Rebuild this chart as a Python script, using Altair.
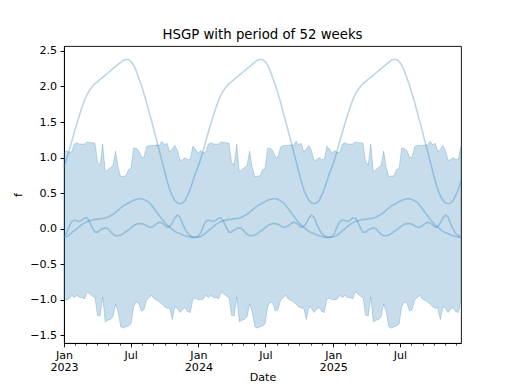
import altair as alt
import pandas as pd

# weekly dates, 2023-01-01 .. 2025-12-14 (155 weeks)
dates = pd.date_range("2023-01-01", periods=155, freq="7D").strftime("%Y-%m-%d").tolist()

# upper edge of the shaded band (read per week; 2023 / 2024 / 2025 rows)
upper = [
    1.06, 1.10, 1.07, 1.08, 1.19, 1.21, 1.19, 1.19, 1.19, 1.22, 1.21, 1.21, 1.20, 0.94, 0.89, 1.19, 0.80, 0.83, 0.86, 0.89, 1.09, 0.86, 0.73, 0.74, 0.74, 0.83, 0.85, 1.13, 1.13, 1.10, 1.01, 1.00, 1.15, 1.17, 1.17, 1.17, 1.18, 1.17, 1.23, 1.18, 1.20, 1.08, 1.12, 1.17, 1.10, 0.96, 0.97, 1.00, 0.97, 0.98, 1.16, 1.12,
    1.06, 1.10, 1.07, 1.08, 1.19, 1.21, 1.19, 1.19, 1.19, 1.22, 1.21, 1.21, 1.20, 0.94, 0.89, 1.19, 0.80, 0.83, 0.86, 0.89, 1.09, 0.86, 0.73, 0.74, 0.74, 0.83, 0.85, 1.13, 1.13, 1.10, 1.01, 1.00, 1.15, 1.17, 1.17, 1.17, 1.18, 1.17, 1.23, 1.18, 1.20, 1.08, 1.12, 1.17, 1.10, 0.96, 0.97, 1.00, 0.97, 0.98, 1.16, 1.12,
    1.06, 1.10, 1.07, 1.08, 1.19, 1.21, 1.19, 1.19, 1.19, 1.22, 1.21, 1.21, 1.20, 0.94, 0.89, 1.19, 0.80, 0.83, 0.86, 0.89, 1.09, 0.86, 0.73, 0.74, 0.74, 0.83, 0.85, 1.13, 1.13, 1.10, 1.01, 1.00, 1.15, 1.17, 1.17, 1.17, 1.18, 1.17, 1.23, 1.18, 1.20, 1.08, 1.12, 1.17, 1.10, 0.96, 0.97, 1.00, 0.97, 0.98, 1.16,
]

# lower edge of the shaded band
lower = [
    -1.00, -1.00, -0.99, -0.94, -0.97, -0.94, -0.97, -0.97, -0.99, -0.89, -0.92, -0.95, -0.97, -1.22, -1.23, -0.96, -1.31, -1.29, -1.28, -1.24, -1.06, -1.17, -1.38, -1.40, -1.38, -1.37, -1.34, -1.10, -1.03, -1.05, -1.16, -1.14, -1.01, -0.97, -0.94, -0.99, -1.01, -1.03, -1.06, -1.10, -1.12, -1.12, -1.28, -1.10, -1.12, -1.18, -1.14, -1.11, -1.17, -1.18, -0.99, -0.98,
    -1.00, -1.00, -0.99, -0.94, -0.97, -0.94, -0.97, -0.97, -0.99, -0.89, -0.92, -0.95, -0.97, -1.22, -1.23, -0.96, -1.31, -1.29, -1.28, -1.24, -1.06, -1.17, -1.38, -1.40, -1.38, -1.37, -1.34, -1.10, -1.03, -1.05, -1.16, -1.14, -1.01, -0.97, -0.94, -0.99, -1.01, -1.03, -1.06, -1.10, -1.12, -1.12, -1.28, -1.10, -1.12, -1.18, -1.14, -1.11, -1.17, -1.18, -0.99, -0.98,
    -1.00, -1.00, -0.99, -0.94, -0.97, -0.94, -0.97, -0.97, -0.99, -0.89, -0.92, -0.95, -0.97, -1.22, -1.23, -0.96, -1.31, -1.29, -1.28, -1.24, -1.06, -1.17, -1.38, -1.40, -1.38, -1.37, -1.34, -1.10, -1.03, -1.05, -1.16, -1.14, -1.01, -0.97, -0.94, -0.99, -1.01, -1.03, -1.06, -1.10, -1.12, -1.12, -1.28, -1.10, -1.12, -1.18, -1.14, -1.11, -1.17, -1.18, -0.99,
]

# sample curve with the large amplitude
curve_a = [
    0.87, 0.98, 1.10, 1.23, 1.36, 1.48, 1.60, 1.71, 1.81, 1.89, 1.95, 2.00, 2.04, 2.07, 2.10, 2.13, 2.16, 2.19, 2.22, 2.25, 2.28, 2.31, 2.34, 2.37, 2.38, 2.38, 2.35, 2.30, 2.22, 2.12, 2.02, 1.90, 1.78, 1.64, 1.51, 1.37, 1.23, 1.09, 0.95, 0.81, 0.67, 0.55, 0.46, 0.40, 0.36, 0.35, 0.36, 0.40, 0.47, 0.56, 0.67, 0.78,
    0.87, 0.98, 1.10, 1.23, 1.36, 1.48, 1.60, 1.71, 1.81, 1.89, 1.95, 2.00, 2.04, 2.07, 2.10, 2.13, 2.16, 2.19, 2.22, 2.25, 2.28, 2.31, 2.34, 2.37, 2.38, 2.38, 2.35, 2.30, 2.22, 2.12, 2.02, 1.90, 1.78, 1.64, 1.51, 1.37, 1.23, 1.09, 0.95, 0.81, 0.67, 0.55, 0.46, 0.40, 0.36, 0.35, 0.36, 0.40, 0.47, 0.56, 0.67, 0.78,
    0.87, 0.98, 1.10, 1.23, 1.36, 1.48, 1.60, 1.71, 1.81, 1.89, 1.95, 2.00, 2.04, 2.07, 2.10, 2.13, 2.16, 2.19, 2.22, 2.25, 2.28, 2.31, 2.34, 2.37, 2.38, 2.38, 2.35, 2.30, 2.22, 2.12, 2.02, 1.90, 1.78, 1.64, 1.51, 1.37, 1.23, 1.09, 0.95, 0.81, 0.67, 0.55, 0.46, 0.40, 0.36, 0.35, 0.36, 0.40, 0.47, 0.56, 0.67,
]

# sample curve with the medium, smooth hump
curve_b = [
    -0.12, -0.11, -0.09, -0.06, -0.03, 0.00, 0.03, 0.06, 0.08, 0.10, 0.11, 0.12, 0.13, 0.13, 0.14, 0.14, 0.15, 0.16, 0.18, 0.20, 0.23, 0.26, 0.29, 0.32, 0.34, 0.36, 0.38, 0.40, 0.41, 0.42, 0.42, 0.41, 0.39, 0.37, 0.33, 0.28, 0.23, 0.18, 0.13, 0.09, 0.05, 0.02, -0.01, -0.04, -0.06, -0.07, -0.09, -0.10, -0.11, -0.12, -0.125, -0.125,
    -0.12, -0.11, -0.09, -0.06, -0.03, 0.00, 0.03, 0.06, 0.08, 0.10, 0.11, 0.12, 0.13, 0.13, 0.14, 0.14, 0.15, 0.16, 0.18, 0.20, 0.23, 0.26, 0.29, 0.32, 0.34, 0.36, 0.38, 0.40, 0.41, 0.42, 0.42, 0.41, 0.39, 0.37, 0.33, 0.28, 0.23, 0.18, 0.13, 0.09, 0.05, 0.02, -0.01, -0.04, -0.06, -0.07, -0.09, -0.10, -0.11, -0.12, -0.125, -0.125,
    -0.12, -0.11, -0.09, -0.06, -0.03, 0.00, 0.03, 0.06, 0.08, 0.10, 0.11, 0.12, 0.13, 0.13, 0.14, 0.14, 0.15, 0.16, 0.18, 0.20, 0.23, 0.26, 0.29, 0.32, 0.34, 0.36, 0.38, 0.40, 0.41, 0.42, 0.42, 0.41, 0.39, 0.37, 0.33, 0.28, 0.23, 0.18, 0.13, 0.09, 0.05, 0.02, -0.01, -0.04, -0.06, -0.07, -0.09, -0.10, -0.11, -0.12, -0.125,
]

# sample curve with the small wiggles
curve_c = [
    -0.11, -0.06, 0.03, 0.10, 0.12, 0.11, 0.10, 0.12, 0.15, 0.15, 0.09, 0.01, -0.05, -0.05, -0.02, 0.00, 0.01, 0.00, -0.04, -0.08, -0.10, -0.10, -0.09, -0.07, -0.04, -0.02, 0.01, 0.04, 0.06, 0.07, 0.07, 0.06, 0.04, 0.02, 0.02, 0.04, 0.07, 0.09, 0.08, 0.05, 0.02, 0.03, 0.08, 0.15, 0.19, 0.16, 0.07, -0.01, -0.07, -0.10, -0.12, -0.12,
    -0.11, -0.06, 0.03, 0.10, 0.12, 0.11, 0.10, 0.12, 0.15, 0.15, 0.09, 0.01, -0.05, -0.05, -0.02, 0.00, 0.01, 0.00, -0.04, -0.08, -0.10, -0.10, -0.09, -0.07, -0.04, -0.02, 0.01, 0.04, 0.06, 0.07, 0.07, 0.06, 0.04, 0.02, 0.02, 0.04, 0.07, 0.09, 0.08, 0.05, 0.02, 0.03, 0.08, 0.15, 0.19, 0.16, 0.07, -0.01, -0.07, -0.10, -0.12, -0.12,
    -0.11, -0.06, 0.03, 0.10, 0.12, 0.11, 0.10, 0.12, 0.15, 0.15, 0.09, 0.01, -0.05, -0.05, -0.02, 0.00, 0.01, 0.00, -0.04, -0.08, -0.10, -0.10, -0.09, -0.07, -0.04, -0.02, 0.01, 0.04, 0.06, 0.07, 0.07, 0.06, 0.04, 0.02, 0.02, 0.04, 0.07, 0.09, 0.08, 0.05, 0.02, 0.03, 0.08, 0.15, 0.19, 0.16, 0.07, -0.01, -0.07, -0.10, -0.12,
]

y_ticks = [-1.5, -1.0, -0.5, 0.0, 0.5, 1.0, 1.5, 2.0, 2.5]
y_domain = [-1.61, 2.57]

band_df = pd.DataFrame({"date": dates, "lower": lower, "upper": upper})
lines_df = pd.DataFrame({
    "date": dates * 3,
    "f": curve_a + curve_b + curve_c,
    "sample": ["a"] * len(dates) + ["b"] * len(dates) + ["c"] * len(dates),
})

FONT = "DejaVu Sans"
C0 = "#1f77b4"

x_scale = alt.Scale(type="utc", nice=False, padding=0)
y_scale = alt.Scale(domain=y_domain, nice=False, zero=False)

major_test = "utcmonth(datum.value) % 6 === 0"
x_axis = alt.Axis(
    title="Date",
    tickCount={"interval": "month", "step": 1},
    labelExpr=(
        "utcmonth(datum.value) === 0 ? [utcFormat(datum.value, '%b'), utcFormat(datum.value, '%Y')]"
        " : (utcmonth(datum.value) === 6 ? utcFormat(datum.value, '%b') : '')"
    ),
    labelOverlap=False,
    labelFlush=False,
    tickSize={"condition": {"test": major_test, "value": 3.9}, "value": 2.2},
    tickWidth={"condition": {"test": major_test, "value": 0.9}, "value": 0.7},
    labelPadding=3,
    labelLineHeight=11.5,
    titlePadding=-1,
)
y_axis = alt.Axis(
    title="f",
    values=y_ticks,
    format=".1f",
    tickSize=3.9,
    labelPadding=3.5,
    titlePadding=6,
)

band = alt.Chart(band_df).mark_area(
    fill=C0, fillOpacity=0.25, stroke=C0, strokeOpacity=0.25, strokeWidth=1
).encode(
    x=alt.X("date:T", scale=x_scale, axis=x_axis),
    y=alt.Y("lower:Q", scale=y_scale, axis=y_axis),
    y2="upper:Q",
)

lines = alt.Chart(lines_df).mark_line(
    color=C0, strokeOpacity=0.3, strokeWidth=1.6
).encode(
    x=alt.X("date:T", scale=x_scale, axis=x_axis),
    y=alt.Y("f:Q", scale=y_scale, axis=y_axis),
    detail="sample:N",
)

chart = alt.layer(band, lines).properties(
    width=397,
    height=297,
    autosize=alt.AutoSizeParams(type="none"),
    padding={"left": 56, "top": 38, "right": 43, "bottom": 46},
    title=alt.TitleParams(
        "HSGP with period of 52 weeks",
        fontSize=13.3, font=FONT, fontWeight="normal", color="black",
        anchor="middle", offset=4,
    ),
).configure_axis(
    labelFont=FONT, titleFont=FONT, labelFontSize=11.1, titleFontSize=11.1,
    labelColor="black", titleColor="black", titleFontWeight="normal",
    tickColor="black", domainColor="black", domainWidth=0.9, grid=False,
).configure_view(
    stroke="black", strokeWidth=0.9
)

chart.save("out.html", embed_options={"renderer": "svg", "actions": False})
